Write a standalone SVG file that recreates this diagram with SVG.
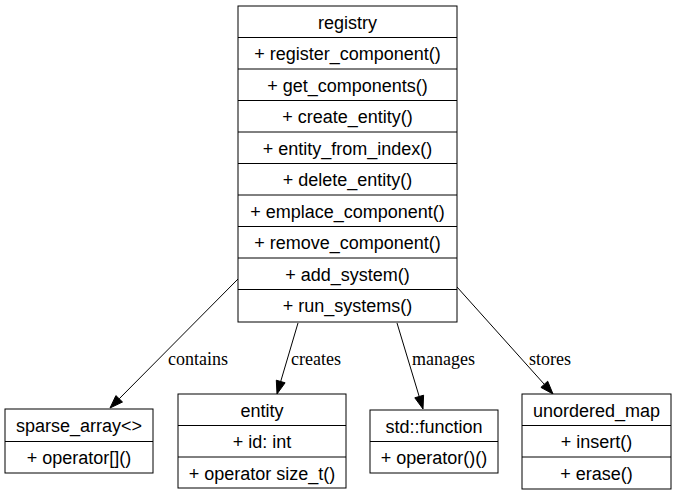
<svg xmlns="http://www.w3.org/2000/svg" width="677" height="495" viewBox="0 0 677 495">
<style>
.box{fill:#fff;stroke:#000;stroke-width:1}
.sep{stroke:#000;stroke-width:1}
.t{font-family:"Liberation Sans",Arial,sans-serif;font-size:18px;text-anchor:middle;fill:#000}
.el{font-family:"Liberation Serif","Times New Roman",serif;font-size:18px;fill:#000}
.edge{stroke:#000;stroke-width:1;fill:none}
.ah{fill:#000;stroke:#000;stroke-width:1}
</style>
<rect width="677" height="495" fill="#fff"/>
<g id="connectors">
<g id="e-contains"><path class="edge" d="M238,279 L119.2,398.8"/><polygon class="ah" points="122.5,402 115.9,395.6 110,408"/><text class="el" x="168" y="365">contains</text></g>
<g id="e-creates"><path class="edge" d="M298,323 L280.7,381.5"/><polygon class="ah" points="285.1,382.8 276.3,380.2 277,394"/><text class="el" x="291" y="365">creates</text></g>
<g id="e-manages"><path class="edge" d="M397,323 L419.2,396.5"/><polygon class="ah" points="423.6,395.2 414.8,397.8 423,409"/><text class="el" x="412" y="365">manages</text></g>
<g id="e-stores"><path class="edge" d="M457,287 L544.3,384.3"/><polygon class="ah" points="547.7,381.2 540.9,387.4 553,394"/><text class="el" x="529" y="365">stores</text></g>
</g>
<g id="registry">
<rect class="box" x="238" y="6" width="219" height="316"/>
<path class="sep" d="M238,37.5H457M238,69H457M238,100.5H457M238,132H457M238,163.5H457M238,195H457M238,226.5H457M238,258H457M238,289.5H457"/>
<text class="t" x="347.5" y="28.5">registry</text>
<text class="t" x="347.5" y="60">+ register_component()</text>
<text class="t" x="347.5" y="91.5">+ get_components()</text>
<text class="t" x="347.5" y="123">+ create_entity()</text>
<text class="t" x="347.5" y="154.5">+ entity_from_index()</text>
<text class="t" x="347.5" y="186">+ delete_entity()</text>
<text class="t" x="347.5" y="217.5">+ emplace_component()</text>
<text class="t" x="347.5" y="249">+ remove_component()</text>
<text class="t" x="347.5" y="280.5">+ add_system()</text>
<text class="t" x="347.5" y="312">+ run_systems()</text>
</g>
<g id="sparse_array">
<rect class="box" x="5" y="409" width="148" height="64"/>
<path class="sep" d="M5,441.5H153"/>
<text class="t" x="79" y="431.5">sparse_array&lt;&gt;</text>
<text class="t" x="79" y="464">+ operator[]()</text>
</g>
<g id="entity">
<rect class="box" x="178" y="394" width="168" height="94"/>
<path class="sep" d="M178,425.5H346M178,457H346"/>
<text class="t" x="262" y="416.5">entity</text>
<text class="t" x="262" y="448">+ id: int</text>
<text class="t" x="262" y="479.5">+ operator size_t()</text>
</g>
<g id="std_function">
<rect class="box" x="370" y="410" width="128" height="63"/>
<path class="sep" d="M370,441.5H498"/>
<text class="t" x="434" y="432.5">std::function</text>
<text class="t" x="434" y="464">+ operator()()</text>
</g>
<g id="unordered_map">
<rect class="box" x="522" y="394" width="149" height="95"/>
<path class="sep" d="M522,425.5H671M522,457H671"/>
<text class="t" x="596.5" y="416.5">unordered_map</text>
<text class="t" x="596.5" y="448">+ insert()</text>
<text class="t" x="596.5" y="479.5">+ erase()</text>
</g>
</svg>
